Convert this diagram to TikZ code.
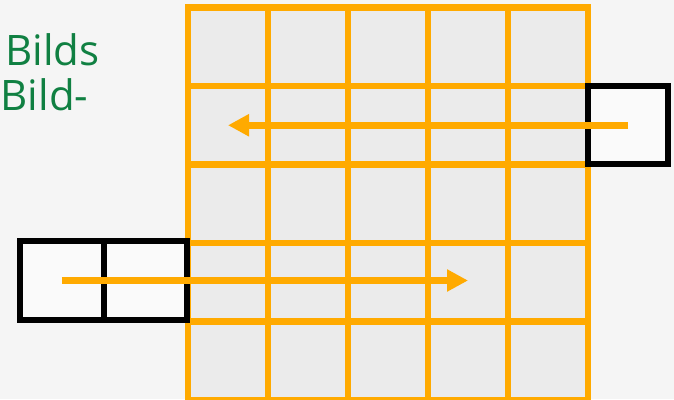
\documentclass[tikz,border=0pt]{standalone}
\usepackage{fontspec}
\setmainfont{Open Sans}
\usetikzlibrary{arrows.meta,positioning}
\definecolor{gridorange}{RGB}{255,170,0}
\definecolor{cellgray}{RGB}{235,235,235}
\definecolor{bggray}{RGB}{245,245,245}
\definecolor{boxwhite}{RGB}{250,250,250}
\definecolor{textgreen}{RGB}{16,128,66}

\begin{document}
\begin{tikzpicture}[x=1pt, y=-1pt,
    cell/.style={rectangle, draw=gridorange, fill=cellgray, line width=6.5pt,
                 minimum width=80pt, minimum height=78.5pt, inner sep=0pt, outer sep=0pt},
    kernel/.style={rectangle, draw=black, fill=boxwhite, line width=6pt,
                   inner sep=0pt, outer sep=0pt},
    scan/.style={draw=gridorange, line width=6.5pt, -{Triangle[length=21pt,width=21pt]}},
    word/.style={text=textgreen, inner sep=0pt, anchor=base west,
                 font=\fontsize{42}{45}\selectfont}]
\useasboundingbox[fill=bggray] (0,0) rectangle (674,399);

\node[word] (w1) at (5,65) {Bilds};
\node[word] (w2) at (0.5,110) {Bild-};

% image grid
\foreach \r in {1,...,5}
  \foreach \c in {1,...,5}
    \node[cell] (c-\r-\c) at ({148+80*\c}, {-31.75+78.5*\r}) {};

% kernels
\node[kernel, minimum width=80pt, minimum height=78pt, right=0pt of c-2-5] (kr) {};
\node[kernel, minimum width=83.5pt, minimum height=79pt] (kl1) at (61.75,280.5) {};
\node[kernel, minimum width=83.5pt, minimum height=79pt, right=0pt of kl1] (kl2) {};

\draw[scan] (kr.center) -- (kr.center -| c-2-1.center);
\draw[scan] (kl1.center) -- (kl1.center -| c-4-4.center);
\end{tikzpicture}
\end{document}
